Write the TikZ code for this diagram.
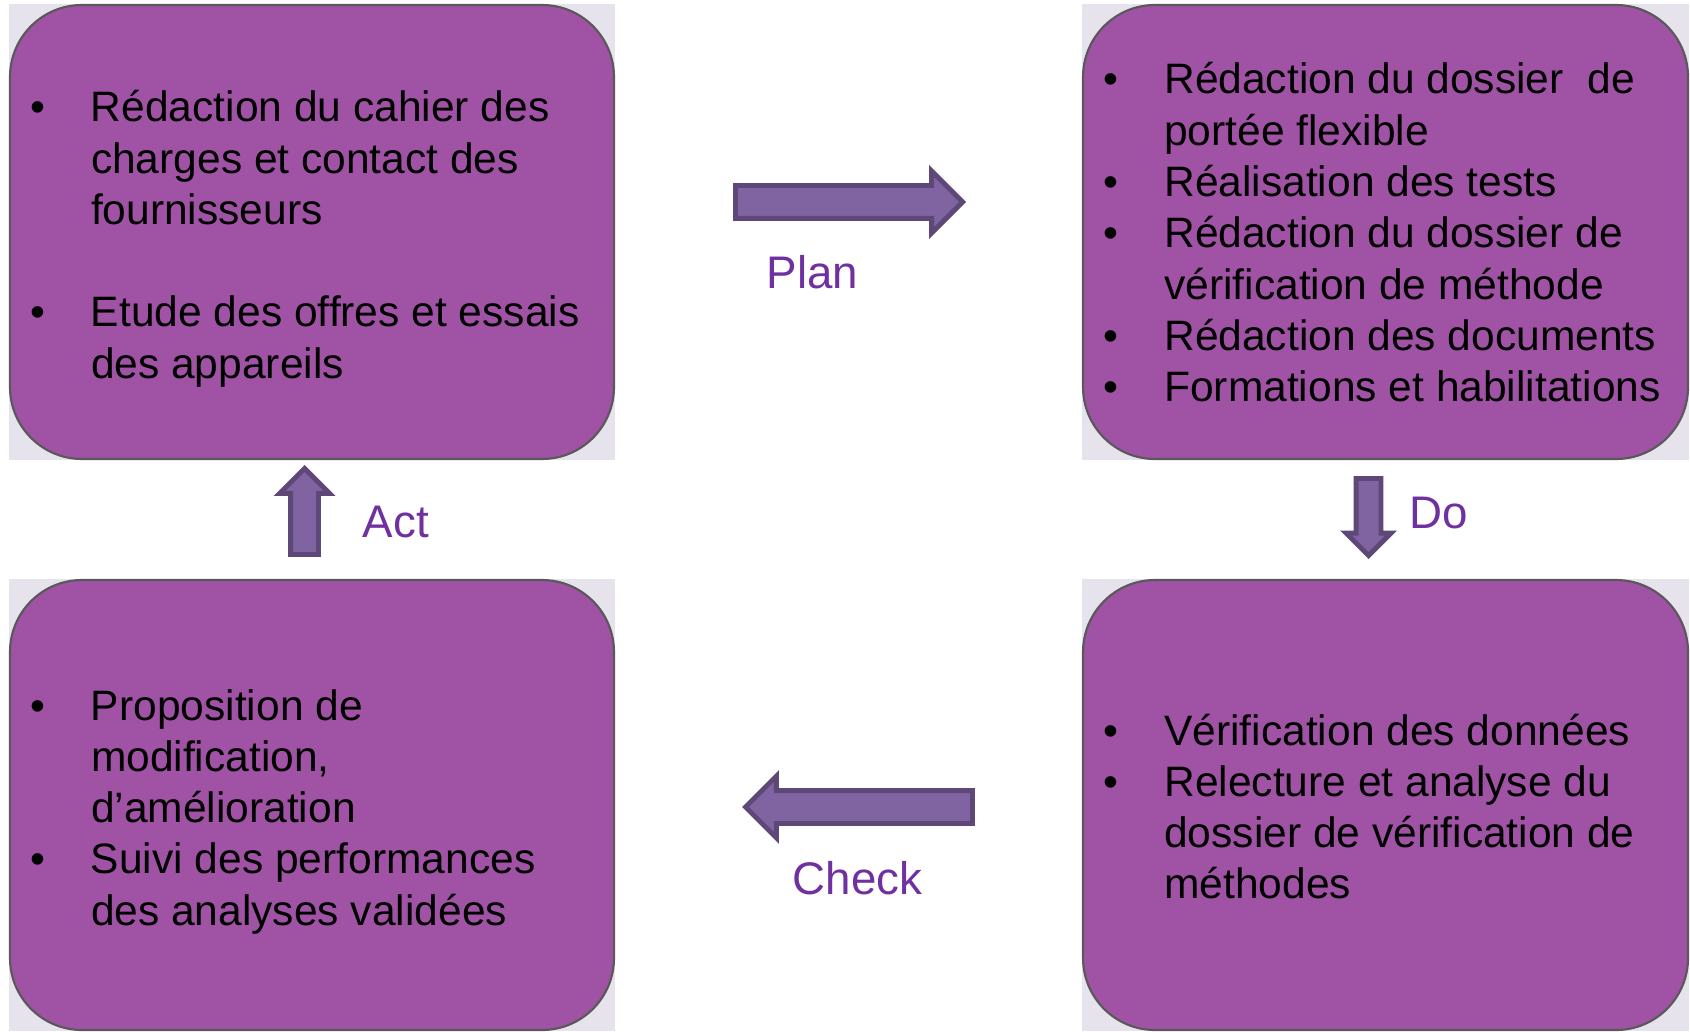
\documentclass[tikz,border=0pt]{standalone}
\usepackage{fontspec}
\setmainfont{Liberation Sans}
\usetikzlibrary{shapes.arrows,backgrounds}
\definecolor{boxpurple}{HTML}{A052A5}
\definecolor{boxborder}{HTML}{595959}
\definecolor{boxback}{HTML}{E6E3EC}
\definecolor{arrowfill}{HTML}{8064A2}
\definecolor{arrowline}{HTML}{5E4878}
\definecolor{labelpurple}{HTML}{7030A0}
\newcommand{\pdcaitems}[1]{{\fontsize{12.1}{14.6}\selectfont\begin{tabular}[t]{@{}p{0.61cm}@{}l@{}}#1\end{tabular}}}

\begin{document}
\begin{tikzpicture}[every node/.style={inner sep=0pt},
    box/.style={draw=boxborder,line width=0.6pt,fill=boxpurple,rounded corners=0.72cm,minimum width=6.04cm,minimum height=4.54cm},
    blockarrow/.style={single arrow,anchor=tip,draw=arrowline,line width=1.4pt,fill=arrowfill},
    phase/.style={text=labelpurple,font=\fontsize{13}{15}\selectfont,anchor=base west}]
  \useasboundingbox (0,0) rectangle (16.90,-10.31);
  \draw
    (3.12,-2.32) node[box] (selection) {}
    (13.855,-2.32) node[box,minimum width=6.05cm] (deploy) {}
    (13.855,-8.05) node[box,minimum width=6.05cm,minimum height=4.50cm] (review) {}
    (3.12,-8.05) node[box,minimum height=4.50cm] (improve) {};
  \begin{scope}[on background layer]
    \foreach \b in {selection,deploy,review,improve}
      \fill[boxback] (\b.south west) rectangle (\b.north east);
  \end{scope}
  \draw
    (0.293,-1.217) node[anchor=base west] (selectiontxt) {\pdcaitems{%
      \textbullet & Rédaction du cahier des\\
       & charges et contact des\\
       & fournisseurs\\
       & \\
      \textbullet & Etude des offres et essais\\
       & des appareils}}
    (11.026,-0.94) node[anchor=base west] (deploytxt) {\pdcaitems{%
      \textbullet & Rédaction du dossier\ \ de\\
       & portée flexible\\
      \textbullet & Réalisation des tests\\
      \textbullet & Rédaction du dossier de\\
       & vérification de méthode\\
      \textbullet & Rédaction des documents\\
      \textbullet & Formations et habilitations}}
    (11.026,-7.45) node[anchor=base west] (reviewtxt) {\pdcaitems{%
      \textbullet & Vérification des données\\
      \textbullet & Relecture et analyse du\\
       & dossier de vérification de\\
       & méthodes}}
    (0.293,-7.20) node[anchor=base west] (improvetxt) {\pdcaitems{%
      \textbullet & Proposition de\\
       & modification,\\
       & d’amélioration\\
      \textbullet & Suivi des performances\\
       & des analyses validées}};
  \draw
    (9.66,-2.02) node[blockarrow,minimum height=2.27cm,minimum width=0.57cm,inner sep=0.14cm,single arrow head extend=0.145cm] (planarrow) {}
    (13.685,-5.59) node[blockarrow,shape border rotate=270,minimum height=0.77cm,minimum width=0.40cm,inner sep=0.10cm,single arrow head extend=0.10cm] (doarrow) {}
    (7.42,-8.07) node[blockarrow,shape border rotate=180,minimum height=2.27cm,minimum width=0.57cm,inner sep=0.14cm,single arrow head extend=0.145cm] (checkarrow) {}
    (3.045,-4.65) node[blockarrow,shape border rotate=90,minimum height=0.86cm,minimum width=0.45cm,inner sep=0.115cm,single arrow head extend=0.11cm] (actarrow) {};
  \draw
    (7.66,-2.88) node[phase] (planlbl) {Plan}
    (14.09,-5.28) node[phase] (dolbl) {Do}
    (7.92,-8.94) node[phase] (checklbl) {Check}
    (3.62,-5.37) node[phase] (actlbl) {Act};
\end{tikzpicture}
\end{document}
